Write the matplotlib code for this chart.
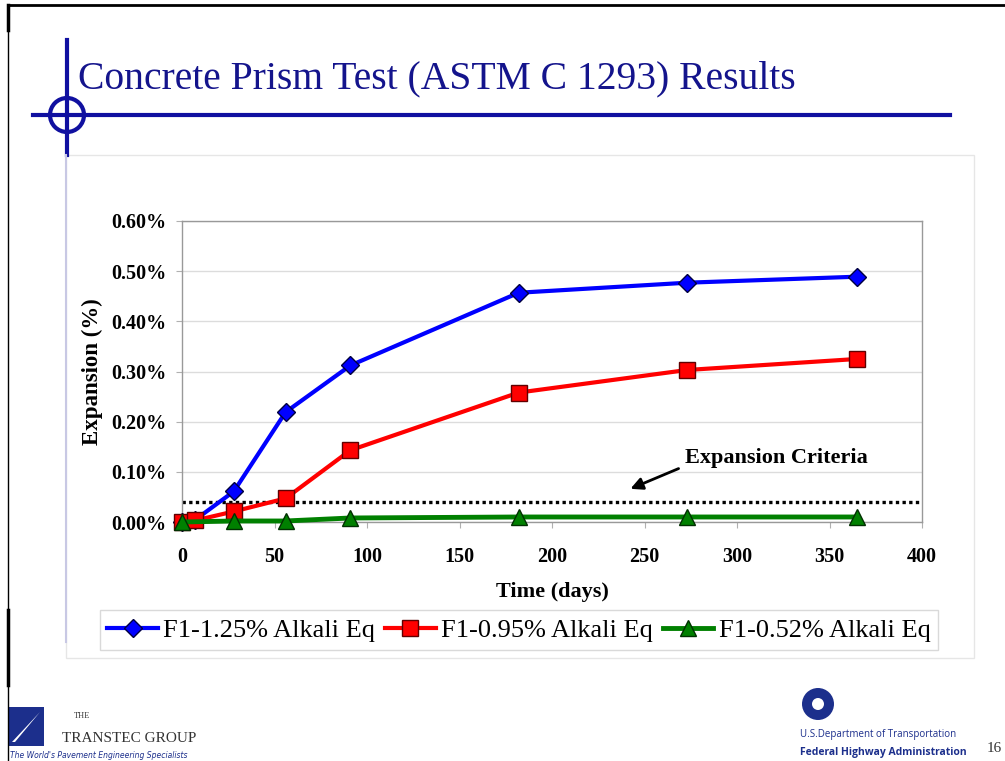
import numpy as np
import matplotlib
matplotlib.use("Agg")
import matplotlib.pyplot as plt
from matplotlib.patches import Rectangle, Circle, Polygon
from matplotlib.lines import Line2D

W, H = 1005, 761

# data
days_hi  = [0, 7, 28, 56, 91, 182, 273, 365]
exp_hi   = [0.000, 0.004, 0.061, 0.219, 0.312, 0.457, 0.477, 0.489]
days_mid = [0, 7, 28, 56, 91, 182, 273, 365]
exp_mid  = [0.000, 0.003, 0.021, 0.047, 0.143, 0.258, 0.303, 0.325]
days_lo  = [0, 28, 56, 91, 182, 273, 365]
exp_lo   = [0.000, 0.002, 0.002, 0.008, 0.010, 0.010, 0.010]
criteria = 0.04
labels   = ["F1-1.25% Alkali Eq", "F1-0.95% Alkali Eq", "F1-0.52% Alkali Eq"]
yticks   = [0.0, 0.1, 0.2, 0.3, 0.4, 0.5, 0.6]
xticks   = [0, 50, 100, 150, 200, 250, 300, 350, 400]

SERIF = "Liberation Serif"
NAVY = "#14148c"


def fx(px):
    return px / W


def fy(py):
    return 1 - py / H


fig = plt.figure(figsize=(W / 100, H / 100), dpi=100)
fig.patch.set_facecolor("white")

# slide frame
fig.add_artist(Line2D([fx(8), fx(1005)], [fy(5), fy(5)], color="black", lw=2))
fig.add_artist(Line2D([fx(8), fx(8)], [fy(5), fy(761)], color="black", lw=1))
fig.add_artist(Line2D([fx(8), fx(8)], [fy(5), fy(30)], color="black", lw=2.5))
fig.add_artist(Line2D([fx(8), fx(8)], [fy(610), fy(685)], color="black", lw=2.5))

# title decoration
fig.add_artist(Line2D([fx(67), fx(67)], [fy(40), fy(155)], color="#1010a0", lw=3))
fig.add_artist(Line2D([fx(33), fx(950)], [fy(115), fy(115)], color="#1010a0", lw=3))
fig.add_artist(Circle((67, H - 115), 17, transform=None, fill=False,
                      edgecolor="#1010a0", lw=3))
fig.add_artist(Line2D([fx(66), fx(66)], [fy(155), fy(642)], color="#c8c8e4", lw=1.5))
fig.text(fx(78), fy(79), "Concrete Prism Test (ASTM C 1293) Results",
         family=SERIF, fontsize=28.5, color=NAVY, va="center", ha="left")

# chart area border
fig.add_artist(Rectangle((fx(66), fy(658)), fx(974) - fx(66), fy(155) - fy(658),
                         fill=False, edgecolor="#e6e6e6", lw=1))

ax = fig.add_axes([fx(182), fy(522), fx(922) - fx(182), fy(221) - fy(522)])
ax.set_xlim(0, 400)
ax.set_ylim(0, 0.6)
ax.set_xticks(xticks)
ax.set_yticks(yticks)
ax.set_xticklabels([str(t) for t in xticks])
ax.set_yticklabels([f"{t:.2f}%" for t in yticks])
for lab in ax.get_xticklabels() + ax.get_yticklabels():
    lab.set_family(SERIF)
    lab.set_fontweight("bold")
    lab.set_fontsize(14.5)
ax.tick_params(axis="x", length=4, color="#b0b0b0", pad=14)
ax.tick_params(axis="y", length=4, color="#b0b0b0", pad=7)
ax.grid(axis="y", color="#dcdcdc", lw=1)
ax.set_axisbelow(True)
for s in ax.spines.values():
    s.set_color("#999999")
    s.set_linewidth(1)

ax.set_xlabel("Time (days)", family=SERIF, fontweight="bold", fontsize=16, labelpad=11)
ax.set_ylabel("Expansion (%)", family=SERIF, fontweight="bold", fontsize=16.5, labelpad=6)

ax.axhline(criteria, color="black", ls=(0, (1, 1)), lw=2.4, zorder=2)

l1, = ax.plot(days_hi, exp_hi, color="#0000ff", lw=3, marker="D", ms=9,
              mfc="#0000ff", mec="#000040", mew=1, zorder=3, clip_on=False)
l2, = ax.plot(days_mid, exp_mid, color="#ff0000", lw=3, marker="s", ms=12,
              mfc="#ff0000", mec="#600000", mew=1, zorder=4, clip_on=False)
l3, = ax.plot(days_lo, exp_lo, color="#008000", lw=3.5, marker="^", ms=12,
              mfc="#008000", mec="#003000", mew=1, zorder=5, clip_on=False)

ax.annotate("Expansion Criteria", xy=(241, 0.064), xytext=(272, 0.128),
            family=SERIF, fontweight="bold", fontsize=16, va="center", ha="left",
            arrowprops=dict(arrowstyle="-|>", color="black", lw=2,
                            mutation_scale=18, relpos=(0, 0.1), shrinkA=3))

leg = fig.legend([l1, l2, l3], labels, loc="center",
                 bbox_to_anchor=((fx(98) + fx(940)) / 2, (fy(608) + fy(652)) / 2),
                 ncol=3, prop={"family": SERIF, "size": 19}, frameon=True,
                 fancybox=False, edgecolor="#d0d0d0", handlelength=1.9,
                 handletextpad=0.2, columnspacing=0.4, borderpad=0.3)

# Transtec logo
fig.add_artist(Rectangle((fx(8), fy(746)), fx(44) - fx(8), fy(707) - fy(746),
                         facecolor="#1c2f8c", edgecolor="none"))
fig.add_artist(Polygon([[fx(12), fy(742)], [fx(40), fy(712)], [fx(15), fy(742)]],
                       closed=True, facecolor="white", edgecolor="none"))
fig.text(fx(74), fy(716), "THE", family=SERIF, fontsize=6, color="#333333",
         va="center", ha="left")
fig.text(fx(62), fy(739), "TRANSTEC GROUP", family=SERIF, fontsize=11,
         color="#333333", va="center", ha="left")
fig.text(fx(10), fy(755), "The World's Pavement Engineering Specialists",
         family="DejaVu Sans", style="italic", fontsize=5.5, color="#1c2f8c",
         va="center", ha="left")

# DOT logo
fig.add_artist(Circle((818, H - 704), 16, transform=None, facecolor="#1c2f8c",
                      edgecolor="none"))
fig.add_artist(Circle((818, H - 704), 6, transform=None, facecolor="white",
                      edgecolor="none"))
fig.text(fx(800), fy(735), "U.S.Department of Transportation", family="Open Sans",
         fontsize=7, color="#1c2f8c", va="center", ha="left")
fig.text(fx(800), fy(753), "Federal Highway Administration", family="Open Sans",
         fontweight="bold", fontsize=7.5, color="#1c2f8c", va="center", ha="left")
fig.text(fx(987), fy(748), "16", family=SERIF, fontsize=11, color="#333333",
         va="center", ha="left")

fig.savefig("out.png", dpi=100)
